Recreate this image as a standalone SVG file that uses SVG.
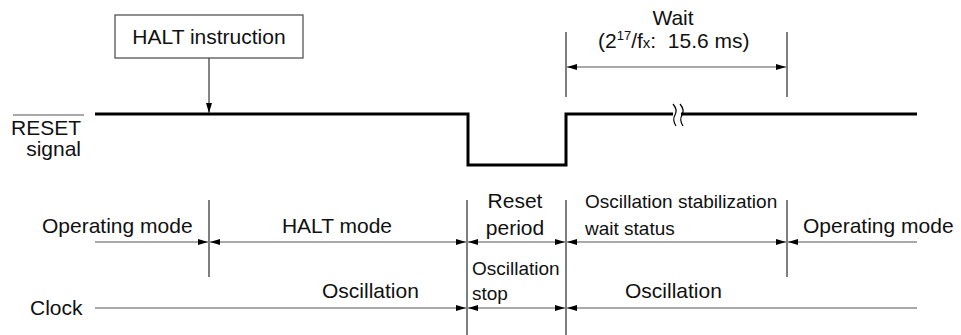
<svg xmlns="http://www.w3.org/2000/svg" width="961" height="335" viewBox="0 0 961 335">
<defs>
<marker id="ah" viewBox="0 0 10 6" refX="10" refY="3" markerWidth="10" markerHeight="6" markerUnits="userSpaceOnUse" orient="auto-start-reverse">
<path d="M0,0 L10,3 L0,6 Z" fill="#000"/>
</marker>
</defs>
<style>
text{font-family:"Liberation Sans",Arial,sans-serif;font-size:21px;fill:#111}
.sm{font-size:19px}
.dim{stroke:#555;stroke-width:1.2;fill:none}
.vl{stroke:#555;stroke-width:1.5;fill:none}
.sig{stroke:#000;stroke-width:3;fill:none}
</style>
<rect width="961" height="335" fill="#fff"/>
<g id="halt-instruction">
<rect x="115" y="15" width="188" height="43" fill="#fff" stroke="#555" stroke-width="1.3"/>
<text x="209" y="44" text-anchor="middle">HALT instruction</text>
</g>
<g id="reset-label">
<text x="81" y="135" text-anchor="end">RESET</text>
<line x1="13" y1="115" x2="84" y2="115" stroke="#555" stroke-width="1.2"/>
<text x="81" y="156" text-anchor="end">signal</text>
</g>
<g id="reset-signal">
<path class="sig" d="M95,114 H468 V165 H566 V114 H673"/>
<path class="sig" d="M681,114 H917"/>
<path d="M673,104 Q678,110 675,115 Q672,120 676,126 M680,104 Q685,110 682,115 Q679,120 683,126" stroke="#000" stroke-width="1.2" fill="none"/>
</g>
<g id="wait">
<text x="673" y="25" text-anchor="middle">Wait</text>
<text x="598" y="48" style="white-space:pre" xml:space="preserve">(2<tspan font-size="13" dy="-8">17</tspan><tspan dy="8">/f</tspan><tspan font-size="15">x</tspan>:  15.6 ms)</text>
</g>
<g id="clock-label"><text x="30" y="315">Clock</text></g>
<g id="operating-mode-1"><text x="42" y="233">Operating mode</text></g>
<g id="halt-mode"><text x="337" y="233" text-anchor="middle">HALT mode</text></g>
<g id="reset-period"><text x="515" y="208" text-anchor="middle">Reset</text><text x="515" y="235" text-anchor="middle">period</text></g>
<g id="osc-stab"><text class="sm" x="585" y="208">Oscillation stabilization</text><text class="sm" x="585" y="235">wait status</text></g>
<g id="operating-mode-2"><text x="803" y="233">Operating mode</text></g>
<g id="oscillation-1"><text x="322" y="298">Oscillation</text></g>
<g id="osc-stop"><text class="sm" x="472" y="275">Oscillation</text><text class="sm" x="472" y="300">stop</text></g>
<g id="oscillation-2"><text x="625" y="298">Oscillation</text></g>
<g id="connectors">
<line x1="209" y1="58" x2="209" y2="113" stroke="#333" stroke-width="1.2" marker-end="url(#ah)"/>
<line class="vl" x1="566" y1="32" x2="566" y2="97"/>
<line class="vl" x1="787" y1="32" x2="787" y2="97"/>
<line class="dim" x1="567" y1="67" x2="786" y2="67" marker-start="url(#ah)" marker-end="url(#ah)"/>
<line class="vl" x1="209" y1="200" x2="209" y2="277"/>
<line class="vl" x1="467" y1="200" x2="467" y2="335"/>
<line class="vl" x1="566" y1="200" x2="566" y2="335"/>
<line class="vl" x1="787" y1="200" x2="787" y2="277"/>
<line class="dim" x1="95" y1="242" x2="208" y2="242" marker-end="url(#ah)"/>
<line class="dim" x1="210" y1="242" x2="466" y2="242" marker-start="url(#ah)" marker-end="url(#ah)"/>
<line class="dim" x1="468" y1="242" x2="565" y2="242" marker-start="url(#ah)" marker-end="url(#ah)"/>
<line class="dim" x1="567" y1="242" x2="786" y2="242" marker-start="url(#ah)" marker-end="url(#ah)"/>
<line class="dim" x1="788" y1="242" x2="917" y2="242" marker-start="url(#ah)"/>
<line class="dim" x1="95" y1="308" x2="466" y2="308" marker-end="url(#ah)"/>
<line class="dim" x1="468" y1="308" x2="565" y2="308" marker-start="url(#ah)" marker-end="url(#ah)"/>
<line class="dim" x1="567" y1="308" x2="917" y2="308" marker-start="url(#ah)"/>
</g>
</svg>
